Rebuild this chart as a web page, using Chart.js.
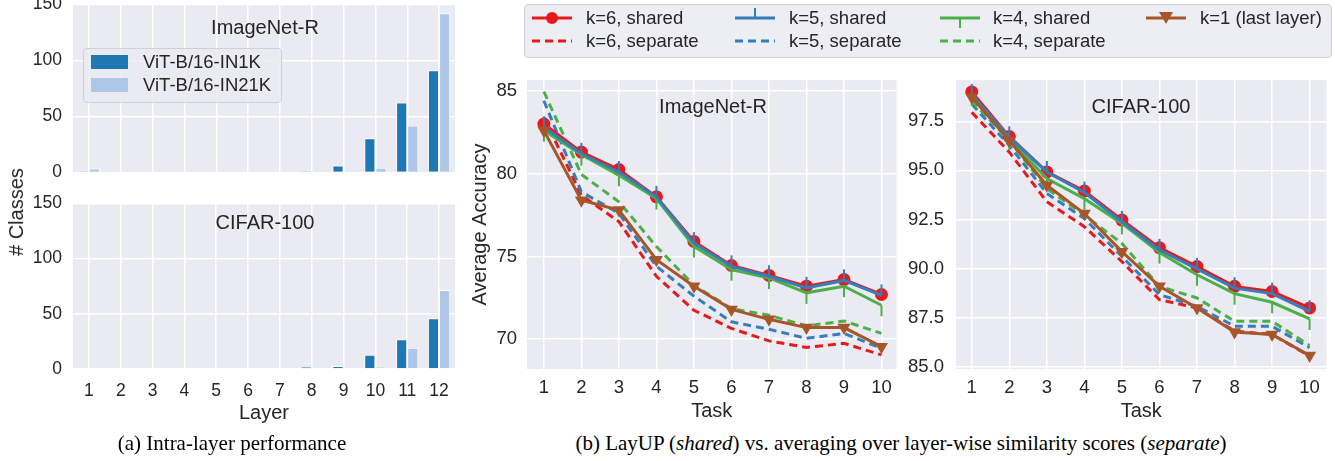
<!DOCTYPE html>
<html lang="en">
  <head>
    <meta charset="UTF-8" />
    <title>LayUP layer analysis</title>
    <script src="https://cdn.jsdelivr.net/npm/chart.js"></script>
    <style>
      body {
        margin: 0;
        width: 1335px;
        height: 461px;
        position: relative;
        overflow: hidden;
        background: #fff;
        font-family: "Liberation Sans", Arial, sans-serif;
        color: #262626;
      }
      canvas, .abs { position: absolute; }
      .ptitle {
        position: absolute;
        font-size: 20px;
        line-height: 1;
        transform: translate(-50%, -50%);
        white-space: nowrap;
      }
      .legend {
        position: absolute;
        background: rgba(234, 234, 242, 0.85);
        border: 1px solid #cfcfd6;
        border-radius: 4px;
        box-sizing: border-box;
      }
      .item {
        position: absolute;
        font-size: 18.5px;
        line-height: 1;
        transform: translateY(-50%);
        white-space: nowrap;
      }
      .caption {
        position: absolute;
        font-family: "Liberation Serif", "Times New Roman", serif;
        font-size: 21px;
        color: #000;
        transform: translate(-50%, -50%);
        white-space: nowrap;
      }
    </style>
  </head>
  <body>
    <canvas id="bar-inr" width="460" height="190" style="left:0px;top:-10px"></canvas>
    <canvas id="bar-cif" width="460" height="235" style="left:0px;top:190px"></canvas>
    <canvas id="line-inr" width="442" height="370" style="left:460px;top:60px"></canvas>
    <canvas id="line-cif" width="445" height="370" style="left:890px;top:60px"></canvas>

    <div class="ptitle" style="left:265px;top:27px">ImageNet-R</div>
    <div class="ptitle" style="left:265px;top:222px">CIFAR-100</div>
    <div class="ptitle" style="left:713px;top:106px">ImageNet-R</div>
    <div class="ptitle" style="left:1141px;top:106px">CIFAR-100</div>

    <div class="ptitle" style="left:16px;top:212px;transform:translate(-50%,-50%) rotate(-90deg)"># Classes</div>

    <!-- legend for the bar panels -->
    <div class="legend" style="left:83px;top:48px;width:199px;height:55px"></div>
    <div class="abs" style="left:91px;top:55px;width:37px;height:14px;background:#1f77b4"></div>
    <div class="item" style="left:143px;top:62px">ViT-B/16-IN1K</div>
    <div class="abs" style="left:91px;top:78px;width:37px;height:14px;background:#aec7e8"></div>
    <div class="item" style="left:143px;top:85px">ViT-B/16-IN21K</div>

    <!-- legend for the line panels -->
    <div class="legend" style="left:524px;top:4px;width:808px;height:54px"></div>
    <svg class="abs" style="left:532px;top:8px" width="40" height="20">
      <line x1="0" y1="10" x2="40" y2="10" stroke="#e41a1c" stroke-width="3" />
      <circle cx="20" cy="10" r="6" fill="#e41a1c" />
    </svg>
    <div class="item" style="left:586px;top:18px">k=6, shared</div>
    <svg class="abs" style="left:532px;top:31px" width="40" height="20">
      <line x1="0" y1="10" x2="40" y2="10" stroke="#e41a1c" stroke-width="3" stroke-dasharray="8 5" />
    </svg>
    <div class="item" style="left:586px;top:41px">k=6, separate</div>

    <svg class="abs" style="left:735px;top:8px" width="40" height="20">
      <line x1="0" y1="10" x2="40" y2="10" stroke="#377eb8" stroke-width="3" />
      <line x1="20" y1="10" x2="20" y2="0" stroke="#377eb8" stroke-width="2" />
    </svg>
    <div class="item" style="left:789px;top:18px">k=5, shared</div>
    <svg class="abs" style="left:735px;top:31px" width="40" height="20">
      <line x1="0" y1="10" x2="40" y2="10" stroke="#377eb8" stroke-width="3" stroke-dasharray="8 5" />
    </svg>
    <div class="item" style="left:789px;top:41px">k=5, separate</div>

    <svg class="abs" style="left:940px;top:8px" width="40" height="20">
      <line x1="0" y1="10" x2="40" y2="10" stroke="#4daf4a" stroke-width="3" />
      <line x1="20" y1="10" x2="20" y2="20" stroke="#4daf4a" stroke-width="2" />
    </svg>
    <div class="item" style="left:993px;top:18px">k=4, shared</div>
    <svg class="abs" style="left:940px;top:31px" width="40" height="20">
      <line x1="0" y1="10" x2="40" y2="10" stroke="#4daf4a" stroke-width="3" stroke-dasharray="8 5" />
    </svg>
    <div class="item" style="left:993px;top:41px">k=4, separate</div>

    <svg class="abs" style="left:1146px;top:8px" width="40" height="20">
      <line x1="0" y1="10" x2="40" y2="10" stroke="#a65628" stroke-width="3" />
      <polygon points="13,4 27,4 20,16" fill="#a65628" />
    </svg>
    <div class="item" style="left:1200px;top:18px">k=1 (last layer)</div>

    <div class="caption" style="left:232px;top:443px">(a) Intra-layer performance</div>
    <div class="caption" style="left:901px;top:443px">(b) LayUP (<i>shared</i>) vs. averaging over layer-wise similarity scores (<i>separate</i>)</div>

    <script>
      // ---- data (a): number of classes per layer
      const layers = ["1", "2", "3", "4", "5", "6", "7", "8", "9", "10", "11", "12"];
      const classTicks = [0, 50, 100, 150];
      const inrIn1k = [0.3, 0, 0, 0, 0, 0, 0, 1.2, 6.3, 30.5, 62.6, 91.3];
      const inrIn21k = [3.6, 0, 0, 0, 0, 0, 0, 0.6, 0.4, 4.2, 41.9, 142.2];
      const cifIn1k = [0.5, 0, 0, 0.5, 0, 0.5, 0.5, 2.1, 2.7, 12.9, 27.0, 46.1];
      const cifIn21k = [0, 0, 0, 0.5, 0.5, 0, 0.5, 0.6, 0.6, 2.1, 19.2, 71.6];

      // ---- data (b): average accuracy per task
      const tasks = [1, 2, 3, 4, 5, 6, 7, 8, 9, 10];
      const inrTicks = [70, 75, 80, 85];
      const cifTicks = [85, 87.5, 90, 92.5, 95, 97.5];

      const inrK6Shared = [83.0, 81.3, 80.25, 78.6, 75.9, 74.45, 73.85, 73.2, 73.6, 72.7];
      const inrK6Sep = [83.4, 78.7, 77.1, 73.8, 71.75, 70.65, 69.9, 69.5, 69.75, 69.05];
      const inrK5Shared = [82.8, 81.2, 80.1, 78.6, 75.8, 74.4, 73.8, 73.1, 73.55, 72.65];
      const inrK5Sep = [84.4, 78.9, 77.6, 74.4, 72.6, 71.05, 70.6, 70.05, 70.35, 69.45];
      const inrK4Shared = [82.6, 81.15, 79.9, 78.5, 75.6, 74.2, 73.7, 72.8, 73.2, 72.05];
      const inrK4Sep = [84.95, 79.95, 78.3, 75.6, 73.25, 71.85, 71.45, 70.8, 71.1, 70.35];
      const inrK1 = [82.6, 78.4, 77.8, 74.8, 73.2, 71.8, 71.2, 70.7, 70.7, 69.55];

      const cifK6Shared = [99.0, 96.72, 94.92, 93.95, 92.47, 91.06, 90.1, 89.09, 88.83, 87.99];
      const cifK6Sep = [97.96, 95.93, 93.4, 92.13, 90.35, 88.41, 87.99, 86.81, 86.64, 85.54];
      const cifK5Shared = [98.85, 96.69, 94.92, 93.87, 92.38, 90.95, 89.98, 89.0, 88.72, 87.82];
      const cifK5Sep = [98.38, 96.27, 93.82, 92.55, 90.61, 88.67, 88.07, 87.06, 87.06, 85.96];
      const cifK4Shared = [98.85, 96.6, 94.58, 93.56, 92.3, 90.81, 89.68, 88.72, 88.28, 87.43];
      const cifK4Sep = [98.55, 96.52, 94.07, 92.72, 91.28, 89.09, 88.5, 87.31, 87.31, 86.08];
      const cifK1 = [98.72, 96.52, 94.24, 92.8, 90.86, 89.09, 87.99, 86.76, 86.64, 85.57];

      const RED = "#e41a1c", BLUE = "#377eb8", GREEN = "#4daf4a", BROWN = "#a65628";

      Chart.defaults.font.family = "'Liberation Sans', Arial, sans-serif";
      Chart.defaults.color = "#262626";

      // seaborn-like grey plot background
      const plotBg = {
        id: "plotBg",
        beforeDraw(chart) {
          const { ctx, chartArea: a } = chart;
          ctx.save();
          ctx.fillStyle = "#eaeaf2";
          ctx.fillRect(a.left, a.top, a.width, a.height);
          ctx.restore();
        },
      };

      // build a chart, then move/resize its canvas once so the plot area
      // lands on the wanted page box (left, top, right, bottom)
      function placeChart(id, makeConfig, box) {
        const canvas = document.getElementById(id);
        let chart = new Chart(canvas, makeConfig());
        const x0 = parseFloat(canvas.style.left), y0 = parseFloat(canvas.style.top);
        const a = chart.chartArea;
        const dl = box[0] - (x0 + a.left), dt = box[1] - (y0 + a.top);
        const dr = box[2] - (x0 + a.right), db = box[3] - (y0 + a.bottom);
        const w = canvas.width, h = canvas.height;
        chart.destroy();
        canvas.style.left = x0 + dl + "px";
        canvas.style.top = y0 + dt + "px";
        canvas.width = w + dr - dl;
        canvas.height = h + db - dt;
        return new Chart(canvas, makeConfig());
      }

      // vertical tick markers for the k=5 / k=4 lines
      function tickMark(color, up) {
        const c = document.createElement("canvas");
        c.width = 4;
        c.height = 24;
        const g = c.getContext("2d");
        g.fillStyle = color;
        g.fillRect(1, up ? 1 : 12, 2, 11);
        return c;
      }
      const tickUp = tickMark(BLUE, true);
      const tickDown = tickMark(GREEN, false);

      function barConfig(in1k, in21k, showX) {
        return {
          type: "bar",
          data: {
            labels: layers,
            datasets: [
              { label: "ViT-B/16-IN1K", data: in1k, backgroundColor: "#1f77b4", borderColor: "#fff", borderWidth: 1, categoryPercentage: 0.7, barPercentage: 1 },
              { label: "ViT-B/16-IN21K", data: in21k, backgroundColor: "#aec7e8", borderColor: "#fff", borderWidth: 1, categoryPercentage: 0.7, barPercentage: 1 },
            ],
          },
          options: {
            responsive: false,
            animation: false,
            layout: { padding: { top: 14, right: 5, left: 0, bottom: 0 } },
            plugins: { legend: { display: false }, tooltip: { enabled: false } },
            scales: {
              x: {
                grid: { color: "#fff", lineWidth: 1.5, offset: false, drawTicks: false },
                border: { display: false },
                ticks: { display: showX, padding: 12, font: { size: 17.5 } },
                title: { display: showX, text: "Layer", font: { size: 20 }, padding: { top: 0, bottom: 0 } },
                afterFit: (s) => { s.height = showX ? 56 : 8; },
              },
              y: {
                min: 0,
                max: 150,
                afterBuildTicks: (s) => { s.ticks = classTicks.map((v) => ({ value: v })); },
                grid: { color: "#fff", lineWidth: 1.5, drawTicks: false },
                border: { display: false },
                ticks: { padding: 11, font: { size: 17.5 } },
                afterFit: (s) => { s.width = 73; },
              },
            },
          },
          plugins: [plotBg],
        };
      }

      placeChart("bar-inr", () => barConfig(inrIn1k, inrIn21k, false), [73, 4, 455, 172]);
      placeChart("bar-cif", () => barConfig(cifIn1k, cifIn21k, true), [73, 203, 455, 369]);

      const pts = (vals) => tasks.map((t, i) => ({ x: t, y: vals[i] }));

      function lineConfig(s, yMin, yMax, yTicks, xMin, xMax, yWidth, yTitle, fmt, tickPad) {
        const solid = { borderWidth: 3, pointBorderWidth: 0, fill: false };
        const dashed = { borderWidth: 3, borderDash: [8, 5], pointRadius: 0, fill: false };
        return {
          type: "line",
          data: {
            datasets: [
              { ...solid, label: "k=1 (last layer)", data: pts(s.k1), borderColor: BROWN, backgroundColor: BROWN, pointStyle: "triangle", rotation: 180, pointRadius: 7.5 },
              { ...solid, label: "k=5, shared", data: pts(s.k5), borderColor: BLUE, backgroundColor: BLUE, pointStyle: tickUp, pointRadius: 5 },
              { ...solid, label: "k=4, shared", data: pts(s.k4), borderColor: GREEN, backgroundColor: GREEN, pointStyle: tickDown, pointRadius: 5 },
              { ...solid, label: "k=6, shared", data: pts(s.k6), borderColor: RED, backgroundColor: RED, pointStyle: "circle", pointRadius: 6.5 },
              { ...dashed, label: "k=4, separate", data: pts(s.k4s), borderColor: GREEN },
              { ...dashed, label: "k=5, separate", data: pts(s.k5s), borderColor: BLUE },
              { ...dashed, label: "k=6, separate", data: pts(s.k6s), borderColor: RED },
            ],
          },
          options: {
            responsive: false,
            animation: false,
            layout: { padding: { top: 19, right: 5, left: 0, bottom: 0 } },
            plugins: { legend: { display: false }, tooltip: { enabled: false } },
            scales: {
              x: {
                type: "linear",
                min: xMin,
                max: xMax,
                afterBuildTicks: (sc) => { sc.ticks = tasks.map((v) => ({ value: v })); },
                grid: { color: "#fff", lineWidth: 1.5, drawTicks: false },
                border: { display: false },
                ticks: { padding: 8, font: { size: 18.5 } },
                title: { display: true, text: "Task", font: { size: 20 }, padding: { top: 0, bottom: 7 } },
                afterFit: (sc) => { sc.height = 61; },
              },
              y: {
                min: yMin,
                max: yMax,
                afterBuildTicks: (sc) => { sc.ticks = yTicks.map((v) => ({ value: v })); },
                grid: { color: "#fff", lineWidth: 1.5, drawTicks: false },
                border: { display: false },
                ticks: { padding: tickPad, font: { size: 18.5 }, callback: fmt },
                title: { display: !!yTitle, text: yTitle, font: { size: 20 }, padding: { top: 8, bottom: 0 } },
                afterFit: (sc) => { sc.width = yWidth; },
              },
            },
          },
          plugins: [plotBg],
        };
      }

      placeChart(
        "line-inr",
        () => lineConfig(
          { k6: inrK6Shared, k6s: inrK6Sep, k5: inrK5Shared, k5s: inrK5Sep, k4: inrK4Shared, k4s: inrK4Sep, k1: inrK1 },
          68.2, 85.65, inrTicks, 0.55, 10.4, 67, "Average Accuracy", (v) => String(v), 10
        ),
        [527, 80, 897, 369]
      );
      placeChart(
        "line-cif",
        () => lineConfig(
          { k6: cifK6Shared, k6s: cifK6Sep, k5: cifK5Shared, k5s: cifK5Sep, k4: cifK4Shared, k4s: cifK4Sep, k1: cifK1 },
          84.88, 99.6, cifTicks, 0.58, 10.45, 66, "", (v) => v.toFixed(1), 12
        ),
        [956, 80, 1327, 369]
      );
    </script>
  </body>
</html>
